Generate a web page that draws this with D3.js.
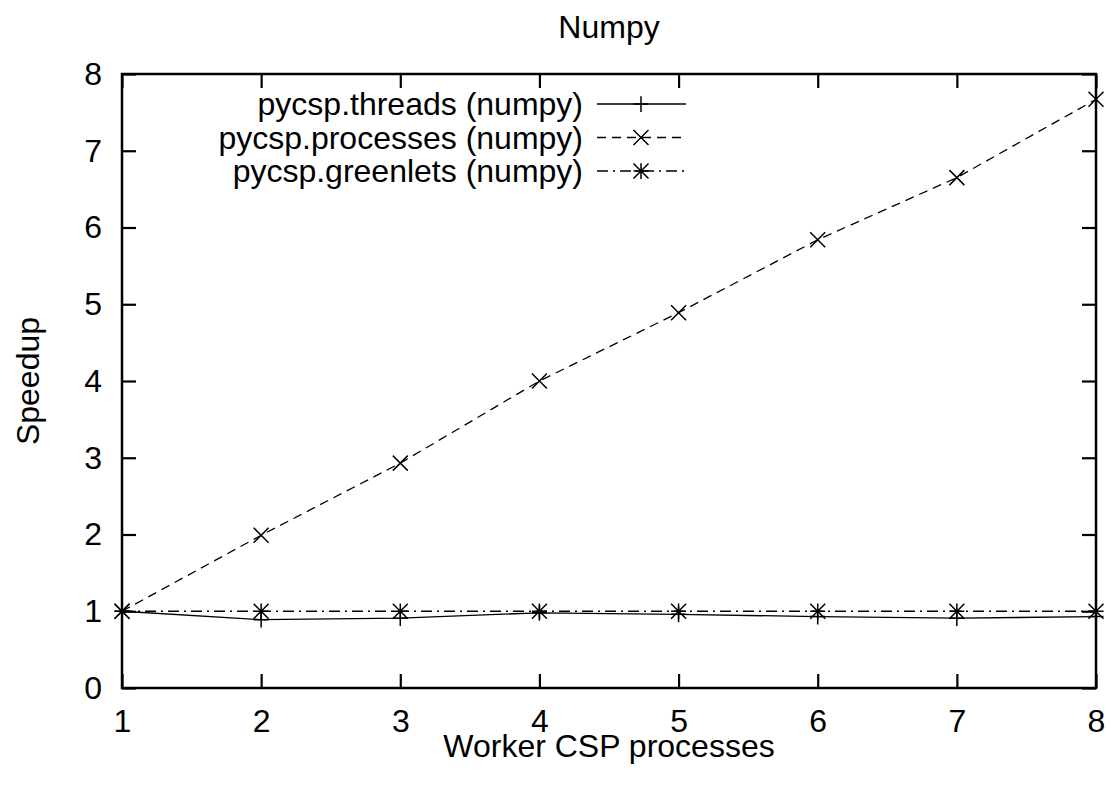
<!DOCTYPE html>
<html><head><meta charset="utf-8">
<script src="https://cdn.jsdelivr.net/npm/d3@7"></script>
<style>body{margin:0;background:#fff}svg{display:block}text{font-family:"Liberation Sans",Arial,sans-serif;fill:#000}</style>
</head><body>
<script>
const workers = [1, 2, 3, 4, 5, 6, 7, 8];
const threads = [1.0, 0.89, 0.91, 0.98, 0.96, 0.93, 0.91, 0.93];
const processes = [1.0, 1.99, 2.93, 4.0, 4.89, 5.84, 6.65, 7.67];
const greenlets = [1.0, 1.0, 1.0, 1.0, 1.0, 1.0, 1.0, 1.0];
const seriesNames = ["pycsp.threads (numpy)", "pycsp.processes (numpy)", "pycsp.greenlets (numpy)"];
const xTicks = [1, 2, 3, 4, 5, 6, 7, 8];
const yTicks = [0, 1, 2, 3, 4, 5, 6, 7, 8];

const W = 1113, H = 787;
const m = {l: 122, r: W - 1096, t: 74, b: H - 688};
const svg = d3.select("body").append("svg").attr("width", W).attr("height", H);
const x = d3.scaleLinear().domain([1, 8]).range([m.l, W - m.r]);
const y = d3.scaleLinear().domain([0, 8]).range([H - m.b, m.t]);
const FS = 32;

const series = [
  {name: seriesNames[0], vals: threads, dash: null, marker: "plus"},
  {name: seriesNames[1], vals: processes, dash: "9,6", marker: "cross"},
  {name: seriesNames[2], vals: greenlets, dash: "11,5,2,5", marker: "star"}
];

function marker(g, type, cx, cy) {
  const s = 7.5;
  const p = d3.path();
  if (type === "plus" || type === "star") {
    p.moveTo(cx - s, cy); p.lineTo(cx + s, cy);
    p.moveTo(cx, cy - s * 1.05); p.lineTo(cx, cy + s * 1.05);
  }
  if (type === "cross" || type === "star") {
    p.moveTo(cx - s, cy - s); p.lineTo(cx + s, cy + s);
    p.moveTo(cx - s, cy + s); p.lineTo(cx + s, cy - s);
  }
  g.append("path").attr("d", p.toString()).attr("stroke", "#000").attr("stroke-width", 1.5).attr("fill", "none");
}

// axes with inward ticks (mirrored)
const tl = 14;
const axB = d3.axisBottom(x).tickValues(xTicks).tickSize(-tl).tickPadding(21).tickFormat(d3.format("d"));
const axT = d3.axisTop(x).tickValues(xTicks).tickSize(-tl).tickFormat("");
const axL = d3.axisLeft(y).tickValues(yTicks).tickSize(-tl).tickPadding(20).tickFormat(d3.format("d"));
const axR = d3.axisRight(y).tickValues(yTicks).tickSize(-tl).tickFormat("");
function style(g) {
  g.select(".domain").remove();
  g.selectAll(".tick line").attr("stroke", "#000").attr("stroke-width", 2.2);
  g.selectAll(".tick text").attr("font-size", FS).attr("font-family", '"Liberation Sans",Arial,sans-serif').attr("fill", "#000");
}
svg.append("g").attr("transform", `translate(0,${H - m.b})`).call(axB).call(style);
svg.append("g").attr("transform", `translate(0,${m.t})`).call(axT).call(style);
svg.append("g").attr("transform", `translate(${m.l},0)`).call(axL).call(style);
svg.append("g").attr("transform", `translate(${W - m.r},0)`).call(axR).call(style);

// series lines
const line = d3.line().x((d, i) => x(workers[i])).y(d => y(d));
const gS = svg.append("g");
series.forEach(s => {
  gS.append("path").attr("d", line(s.vals)).attr("fill", "none").attr("stroke", "#000")
    .attr("stroke-width", 1.3).attr("stroke-dasharray", s.dash);
  s.vals.forEach((v, i) => marker(gS, s.marker, x(workers[i]), y(v)));
});

// frame
svg.append("rect").attr("x", m.l).attr("y", m.t).attr("width", W - m.r - m.l).attr("height", H - m.b - m.t)
  .attr("fill", "none").attr("stroke", "#000").attr("stroke-width", 2.5);

// legend
const lg = svg.append("g");
series.forEach((s, i) => {
  const ly = 104 + i * 33.5;
  lg.append("text").attr("x", 583).attr("y", ly + 11).attr("text-anchor", "end").attr("font-size", FS).text(s.name);
  lg.append("line").attr("x1", 597).attr("x2", 686).attr("y1", ly).attr("y2", ly)
    .attr("stroke", "#000").attr("stroke-width", 1.3).attr("stroke-dasharray", s.dash);
  marker(lg, s.marker, 641, ly);
});

// titles
svg.append("text").attr("x", (m.l + W - m.r) / 2).attr("y", 38).attr("text-anchor", "middle").attr("font-size", FS).text("Numpy");
svg.append("text").attr("x", (m.l + W - m.r) / 2).attr("y", 757).attr("text-anchor", "middle").attr("font-size", FS).text("Worker CSP processes");
svg.append("text").attr("transform", `translate(39,${(m.t + H - m.b) / 2}) rotate(-90)`).attr("text-anchor", "middle").attr("font-size", FS).text("Speedup");
</script>
</body></html>
